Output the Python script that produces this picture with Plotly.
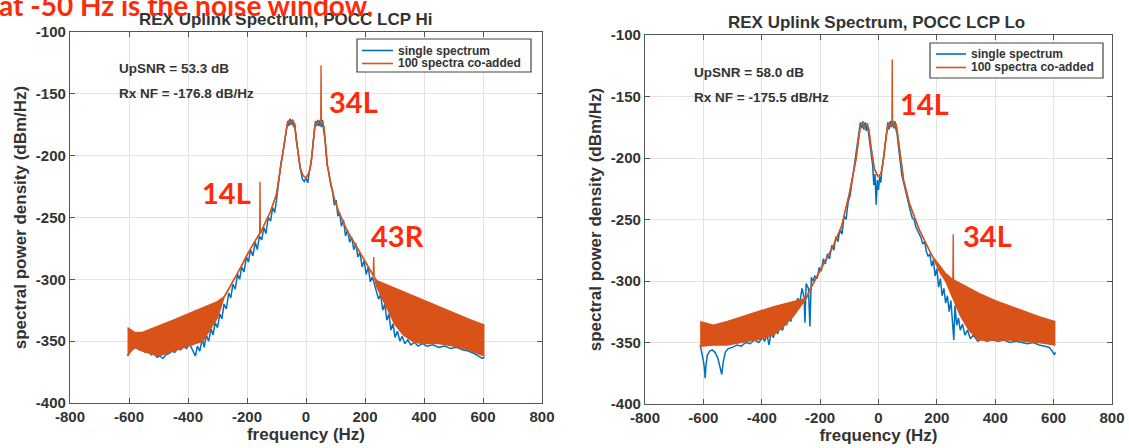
import plotly.graph_objects as go

W, H = 1129, 448
BLUE = "#0072BD"
ORANGE = "#D95319"
RED = "#FF2A0A"
TXT = "#333333"

# ---------------- data: POCC LCP Hi ----------------
hi_co_freq = [-605, -580, -555, -500, -450, -400, -350, -300, -277, -260,
              -240, -220, -200, -180, -160, -157, -156, -155, -140, -120,
              -100, -90, -82, -71, -64, -58, -52, -46, -40, -36,
              -31, -25, -20, -10, 0, 10, 14, 20, 25, 30,
              35, 40, 45, 50, 51, 52, 56, 61, 66, 72,
              80, 90, 96, 110, 140, 170, 200, 228, 229.5, 231,
              240, 260, 280, 300, 330, 367, 400, 450, 500, 550, 605]
hi_co_upper = [-339, -343, -343, -338, -333, -328, -323, -318, -314, -307,
               -298, -290, -280, -272, -264, -263, -221, -263, -255, -245,
               -231, -216, -201, -186, -175, -172, -174, -171, -174, -180,
               -190, -202, -210, -216, -218, -214, -210, -200, -187, -176,
               -173, -174, -172, -174, -127, -174, -173, -177, -190, -207,
               -218, -228, -235, -245, -261, -273, -285, -297, -282, -298,
               -301, -303, -305, -307, -310, -314, -317, -322, -327, -332, -337]
hi_co_lower = [-361, -355, -358, -362, -358, -354, -350, -331, -314, -307,
               -298, -290, -280, -272, -264, -263, -263, -263, -255, -245,
               -231, -216, -201, -186, -175, -172, -174, -171, -174, -180,
               -190, -202, -210, -216, -218, -214, -210, -200, -187, -176,
               -173, -174, -172, -174, -174, -174, -173, -177, -190, -207,
               -218, -228, -235, -245, -261, -273, -285, -297, -297, -298,
               -306, -316, -327, -336, -345, -351, -352, -352, -354, -357, -362]

hi_single_freq = [-605, -595, -585, -575, -565, -555, -545, -535, -525, -515,
                  -505, -495, -485, -475, -465, -455, -445, -435, -425, -415,
                  -405, -395, -385, -375, -368, -360, -352, -345, -338, -330,
                  -322, -315, -308, -300, -292, -285, -278, -270, -262, -255,
                  -248, -240, -232, -225, -218, -210, -202, -195, -188, -180,
                  -172, -165, -158, -150, -143, -136, -128, -120, -113, -106,
                  -99, -92, -85, -78, -71, -66, -62, -58, -54, -50,
                  -46, -42, -38, -34, -30, -24, -18, -12, -6, 0,
                  6, 12, 18, 24, 28, 32, 36, 40, 44, 48,
                  52, 56, 60, 64, 68, 72, 78, 84, 90, 96, 102,
                  108, 114, 120, 127, 134, 141, 148, 155, 162, 169,
                  176, 183, 190, 197, 204, 211, 218, 225, 232, 239,
                  246, 253, 260, 267, 274, 281, 288, 295, 302, 310,
                  318, 326, 335, 345, 355, 368, 380, 395, 410, 430,
                  450, 470, 490, 510, 530, 550, 570, 585, 598, 605]
hi_single_psd = [-362, -358, -356, -355, -357, -356, -359, -358, -361, -360,
                 -363, -362, -364, -361, -360, -358, -359, -356, -357, -354,
                 -356, -352, -357, -362, -354, -358, -348, -355, -345, -350,
                 -340, -345, -335, -339, -328, -332, -320, -324, -311, -315,
                 -304, -308, -296, -300, -290, -294, -282, -286, -276, -281,
                 -270, -276, -265, -268, -258, -263, -250, -253, -242, -246,
                 -234, -219, -206, -198, -186, -178, -172, -176, -170, -175,
                 -171, -177, -174, -186, -193, -205, -212, -219, -221, -218,
                 -222, -212, -205, -190, -181, -172, -176, -171, -176, -172,
                 -177, -171, -180, -186, -198, -208, -214, -224, -229, -240, -236,
                 -249, -246, -257, -252, -265, -260, -270, -266, -276, -271,
                 -282, -278, -290, -285, -296, -290, -302, -298, -305, -310,
                 -316, -312, -325, -320, -333, -328, -341, -336, -347, -342,
                 -350, -346, -352, -349, -353, -351, -354, -352, -354, -353,
                 -355, -354, -356, -355, -357, -358, -360, -362, -364, -363]

# ---------------- data: POCC LCP Lo ----------------
lo_co_freq = [-611, -566, -520, -450, -400, -361, -330, -293, -260, -247,
              -235, -200, -156, -127, -100, -77, -68, -62, -55, -48,
              -40, -33, -25, -14, -2, 8, 15, 22, 30, 36,
              42, 46, 47, 48, 54, 60, 64, 70, 78, 86,
              106, 139, 174, 185, 208, 230, 255, 256, 257, 280,
              310, 344, 400, 447, 500, 550, 606]
lo_co_upper = [-333, -336, -333, -328, -324, -321, -319, -317, -315, -314,
               -307, -291, -272, -256, -229, -201, -184, -174, -172, -175,
               -172, -177, -192, -209, -215, -213, -205, -190, -176, -172,
               -174, -171, -120, -171, -175, -172, -178, -190, -206, -218,
               -237, -258, -275, -280, -287, -294, -299, -262, -299, -302,
               -306, -310, -316, -320, -325, -329, -333]
lo_co_lower = [-353, -352, -352, -349, -347, -344, -338, -329, -318, -314,
               -307, -291, -272, -256, -229, -201, -184, -174, -172, -175,
               -172, -177, -192, -209, -215, -213, -205, -190, -176, -172,
               -174, -171, -171, -171, -175, -172, -178, -190, -206, -218,
               -237, -258, -275, -280, -292, -300, -314, -314, -315, -328,
               -340, -348, -348, -348, -349, -350, -352]

lo_single_freq = [-611, -605, -600, -596, -594, -591, -586, -578, -570, -560,
                  -550, -543, -537, -532, -525, -515, -500, -485, -470, -455,
                  -440, -425, -410, -398, -390, -382, -375, -368, -360, -352,
                  -345, -338, -330, -327, -322, -315, -308, -300, -292, -285,
                  -277, -270, -262, -255, -252, -248, -240, -235, -230, -225,
                  -218, -210, -203, -196, -189, -182, -175, -168, -160, -153,
                  -146, -139, -132, -125, -118, -111,
                  -104, -97, -90, -83, -76, -70, -66, -62, -58, -54,
                  -50, -46, -42, -38, -34, -30, -25, -20, -16, -12,
                  -8, -4, 0, 4, 8, 12, 18, 24, 28, 32,
                  36, 40, 44, 48, 52, 56, 60, 64, 68, 72,
                  76, 80, 86, 92, 98, 104, 110,
                  116, 122, 128, 134, 140, 146, 152, 158, 164, 170,
                  176, 182, 188, 194, 200, 206, 212, 218, 224, 230,
                  236, 242, 248, 254, 258, 262, 268, 274, 280, 288,
                  296, 305, 315, 325, 340, 355, 370, 390, 410, 430,
                  450, 470, 490, 510, 530, 550, 570, 585, 595, 603, 606]
lo_single_psd = [-352, -358, -365, -372, -379, -368, -360, -357, -356, -358,
                 -363, -370, -376, -366, -358, -355, -354, -352, -353, -350,
                 -351, -348, -350, -346, -349, -344, -352, -342, -346, -338,
                 -343, -334, -340, -339, -330, -336, -326, -333, -320, -326,
                 -314, -318, -306, -313, -334, -302, -306, -337, -297, -300,
                 -296, -298, -289, -292, -282, -286, -278, -282, -271, -275,
                 -264, -268, -258, -262, -247, -250,
                 -236, -230, -218, -207, -198, -188, -178, -171, -176, -170,
                 -177, -171, -178, -172, -180, -188, -198, -206, -222, -213,
                 -238, -218, -226, -215, -220, -208, -198, -186, -176, -171,
                 -177, -170, -175, -169, -176, -170, -177, -181, -190, -199,
                 -206, -214, -220, -226, -234, -238, -244,
                 -249, -250, -256, -259, -262, -265, -270, -268, -276, -280,
                 -278, -288, -283, -296, -290, -305, -298, -312, -306, -318,
                 -312, -325, -316, -332, -348, -320, -336, -330, -340, -335,
                 -344, -340, -347, -344, -349, -347, -349, -348, -349, -348,
                 -350, -349, -350, -351, -350, -352, -353, -354, -357, -360, -358]

# ---------------- text ----------------
titles = ["REX Uplink Spectrum, POCC LCP Hi", "REX Uplink Spectrum, POCC LCP Lo"]
series_names = ["single spectrum", "100 spectra co-added"]
snr_text = ["UpSNR = 53.3 dB", "UpSNR = 58.0 dB"]
nf_text = ["Rx NF = -176.8 dB/Hz", "Rx NF = -175.5 dB/Hz"]
x_ticks = [-800, -600, -400, -200, 0, 200, 400, 600, 800]
x_tick_text = ["-800", "-600", "-400", "-200", "0", "200", "400", "600", "800"]
y_ticks = [-400, -350, -300, -250, -200, -150, -100]
y_tick_text = ["-400", "-350", "-300", "-250", "-200", "-150", "-100"]


def fx(x):
    return x / W


def fy(y):
    return 1 - y / H


fig = go.Figure()

panels = [
    ("x", "y", hi_single_freq, hi_single_psd, hi_co_freq, hi_co_upper, hi_co_lower),
    ("x2", "y2", lo_single_freq, lo_single_psd, lo_co_freq, lo_co_upper, lo_co_lower),
]
for xa, ya, sf, sp, cf, cu, cl in panels:
    fig.add_trace(go.Scatter(x=sf, y=sp, mode="lines", name=series_names[0],
                             line=dict(color=BLUE, width=1.5), xaxis=xa, yaxis=ya,
                             showlegend=False))
    fig.add_trace(go.Scatter(x=cf, y=cu, mode="lines", name=series_names[1],
                             line=dict(color=ORANGE, width=1.4), xaxis=xa, yaxis=ya,
                             showlegend=False))
    fig.add_trace(go.Scatter(x=cf, y=cl, mode="lines", name=series_names[1],
                             line=dict(color=ORANGE, width=1.4), fill="tonexty", fillcolor=ORANGE,
                             showlegend=False, xaxis=xa, yaxis=ya))

font_ax = dict(family="Liberation Sans, Arial", size=15, color=TXT, weight="bold")
font_title = dict(family="Liberation Sans, Arial", size=17, color=TXT, weight="bold")


def xaxis(domain, anchor):
    return dict(domain=domain, anchor=anchor, range=[-800, 800], tickvals=x_ticks,
                ticktext=x_tick_text,
                showgrid=True, gridcolor="#e3e3e3", zeroline=False, showline=True,
                linecolor="#555", linewidth=1.2, mirror="ticks", ticks="inside", ticklen=5,
                tickcolor="#555", tickfont=font_ax, automargin=False,
                title=dict(text="frequency (Hz)", font=font_title, standoff=2))


def yaxis(domain, anchor):
    return dict(domain=domain, anchor=anchor, range=[-400, -100], tickvals=y_ticks,
                ticktext=y_tick_text,
                showgrid=True, gridcolor="#e3e3e3", zeroline=False, showline=True,
                linecolor="#555", linewidth=1.2, mirror="ticks", ticks="inside", ticklen=5,
                tickcolor="#555", tickfont=font_ax, automargin=False,
                title=dict(text="spectral power density (dBm/Hz)", font=font_title, standoff=4))


annots = []
shapes = []


def ann(text, x, y, font, xanchor="center", yanchor="middle"):
    annots.append(dict(text=text, x=fx(x), y=fy(y), xref="paper", yref="paper",
                       xanchor=xanchor, yanchor=yanchor, showarrow=False, font=font))


title_font = dict(family="Liberation Sans, Arial", size=17, color=TXT, weight="bold")
ann(titles[0], 285, 19, title_font)
ann(titles[1], 876, 22, title_font)

small = dict(family="Liberation Sans, Arial", size=13.5, color=TXT, weight="bold")
for (xl, y1, y2), s, n in zip([(117, 68, 93), (692, 72, 97)], snr_text, nf_text):
    ann(s, xl, y1, small, xanchor="left")
    ann(n, xl, y2, small, xanchor="left")

# legends (one per panel)
leg_font = dict(family="Liberation Sans, Arial", size=12, color=TXT, weight="bold")
for (bx0, by0, bx1, by1, lx0, lx1, r1, r2) in [(357, 39, 531, 72, 362, 393, 50.5, 63.5),
                                                (930, 43, 1103, 78, 936, 966, 54, 67.5)]:
    shapes.append(dict(type="rect", xref="paper", yref="paper", x0=fx(bx0), x1=fx(bx1),
                       y0=fy(by1), y1=fy(by0), line=dict(color="#444", width=1.2),
                       fillcolor="white", layer="above"))
    shapes.append(dict(type="line", xref="paper", yref="paper", x0=fx(lx0), x1=fx(lx1),
                       y0=fy(r1), y1=fy(r1), line=dict(color=BLUE, width=1.6), layer="above"))
    shapes.append(dict(type="line", xref="paper", yref="paper", x0=fx(lx0), x1=fx(lx1),
                       y0=fy(r2), y1=fy(r2), line=dict(color=ORANGE, width=1.6), layer="above"))
    ann(series_names[0], lx1 + 3, r1, leg_font, xanchor="left")
    ann(series_names[1], lx1 + 3, r2, leg_font, xanchor="left")

red_font = dict(family="Lato, Open Sans", size=29, color=RED, weight="bold")
for t, xc, yc in [("34L", 353, 102), ("14L", 226, 192), ("43R", 397, 235),
                  ("14L", 924, 103), ("34L", 987, 235)]:
    ann(t, xc, yc, red_font)
ann("at -50 Hz is the noise window.", -3, 5,
    dict(family="Lato, Open Sans", size=28, color=RED, weight="bold"), xanchor="left")

fig.update_layout(
    width=W, height=H, margin=dict(l=0, r=0, t=0, b=0, autoexpand=False),
    paper_bgcolor="white", plot_bgcolor="white",
    xaxis=xaxis([fx(70), fx(542)], "y"),
    yaxis=yaxis([fy(403), fy(32)], "x"),
    xaxis2=xaxis([fx(645), fx(1112)], "y2"),
    yaxis2=yaxis([fy(404), fy(35)], "x2"),
    annotations=annots,
    shapes=shapes,
    showlegend=False,
)

fig.write_html("out.html")
